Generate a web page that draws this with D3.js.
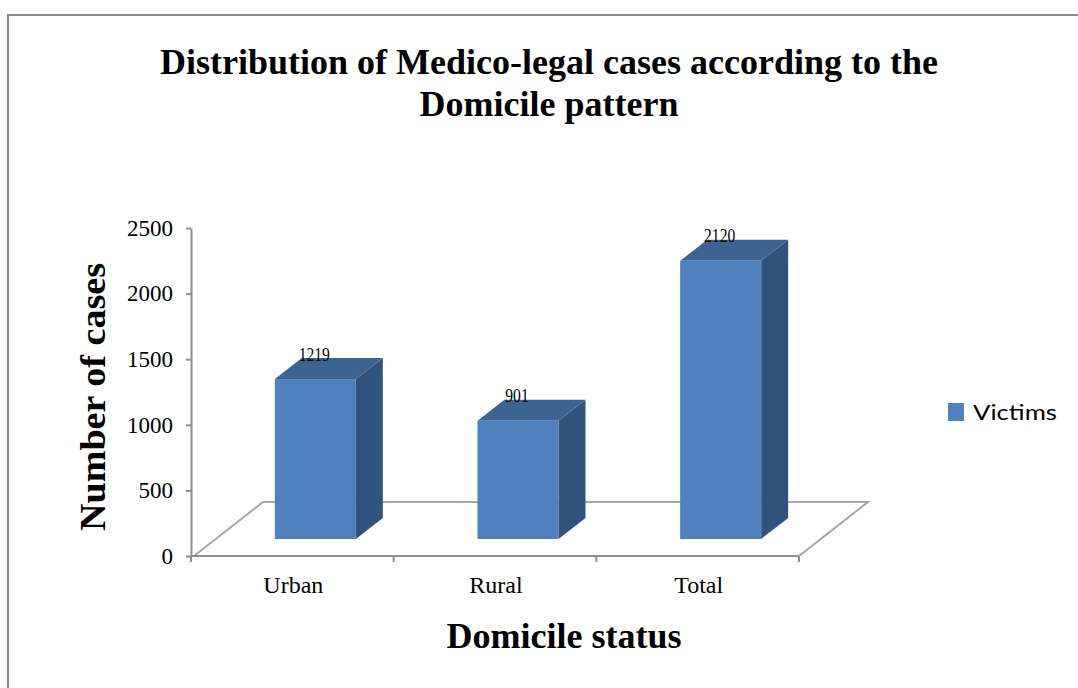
<!DOCTYPE html>
<html>
<head>
<meta charset="utf-8">
<script src="https://cdn.jsdelivr.net/npm/d3@7"></script>
<style>
  body { margin: 0; background: #fff; }
  svg { display: block; }
</style>
</head>
<body>
<svg id="chart" width="1078" height="688"></svg>
<script>
// Data
const categories = ["Urban", "Rural", "Total"];
const victims = [1219, 901, 2120];
const yTicks = [0, 500, 1000, 1500, 2000, 2500];
const seriesName = "Victims";

const svg = d3.select("#chart");
const serif = "'Liberation Serif', 'Times New Roman', serif";
const axisGrey = "#8e8e8e";

// Outer frame
svg.append("path")
    .attr("d", "M8,688 V15 H1078")
    .attr("fill", "none")
    .attr("stroke", "#8a8a8a")
    .attr("stroke-width", 2);

// Scales
const y = d3.scaleLinear().domain([0, 2500]).range([556, 228]);
const x = d3.scaleBand().domain(categories).range([191, 799]).padding(0);

// 3D offsets (floor depth, bar front plane, bar depth)
const floor = { dx: 69, dy: -54 };
const front = { dx: 23, dy: -17 };
const depth = { dx: 27, dy: -21 };
const barW = 81;

// Title
const title = svg.append("text")
    .attr("text-anchor", "middle")
    .attr("font-family", serif)
    .attr("font-weight", "bold")
    .attr("font-size", "36px");
title.append("tspan").attr("x", 549).attr("y", 74).text("Distribution of Medico-legal cases according to the");
title.append("tspan").attr("x", 549).attr("y", 116).text("Domicile pattern");

// Floor
const fx0 = x.range()[0], fx1 = x.range()[1], fy = y(0);
svg.append("path")
    .attr("d", `M${fx0 + 3},${fy} L${fx0 + 3 + floor.dx},${fy + floor.dy} L${fx1 + floor.dx},${fy + floor.dy} L${fx1},${fy}`)
    .attr("fill", "none")
    .attr("stroke", "#a6a6a6")
    .attr("stroke-width", 2);

// Y axis
const yAxis = svg.append("g")
    .attr("transform", `translate(${fx0}, 0)`)
    .call(d3.axisLeft(y).tickValues(yTicks).tickFormat(d3.format("d"))
        .tickSize(5).tickSizeOuter(0).tickPadding(13));
yAxis.select(".domain").attr("stroke", axisGrey).attr("stroke-width", 2);
yAxis.selectAll(".tick line").attr("stroke", axisGrey).attr("stroke-width", 2);
yAxis.selectAll(".tick text")
    .attr("font-family", serif)
    .attr("font-size", "23px")
    .attr("fill", "#000");

// X axis line and boundary ticks
svg.append("line")
    .attr("x1", fx0).attr("x2", fx1)
    .attr("y1", fy).attr("y2", fy)
    .attr("stroke", axisGrey).attr("stroke-width", 2);
const bounds = categories.map(c => x(c)).concat([x.range()[1]]);
svg.selectAll(".xtick")
    .data(bounds)
    .enter().append("line")
    .attr("class", "xtick")
    .attr("x1", d => d).attr("x2", d => d)
    .attr("y1", fy).attr("y2", fy + 6)
    .attr("stroke", axisGrey).attr("stroke-width", 2);

svg.selectAll(".xlabel")
    .data(categories)
    .enter().append("text")
    .attr("class", "xlabel")
    .attr("x", d => x(d) + x.bandwidth() / 2 + 1)
    .attr("y", 593)
    .attr("text-anchor", "middle")
    .attr("font-family", serif)
    .attr("font-size", "24px")
    .text(d => d);

// Bars
const bars = categories.map((c, i) => {
    const x0 = x(c) + x.bandwidth() / 2 - barW / 2 + front.dx;
    return {
        c, v: victims[i],
        x0, x1: x0 + barW,
        yTop: y(victims[i]) + front.dy,
        yBot: y(0) + front.dy
    };
});

const g = svg.append("g");
g.selectAll(".side")
    .data(bars)
    .enter().append("path")
    .attr("class", "side")
    .attr("d", d => `M${d.x1},${d.yTop} L${d.x1 + depth.dx},${d.yTop + depth.dy} L${d.x1 + depth.dx},${d.yBot + depth.dy} L${d.x1},${d.yBot} Z`)
    .attr("fill", "#31527c");
g.selectAll(".top")
    .data(bars)
    .enter().append("path")
    .attr("class", "top")
    .attr("d", d => `M${d.x0},${d.yTop} L${d.x1},${d.yTop} L${d.x1 + depth.dx},${d.yTop + depth.dy} L${d.x0 + depth.dx},${d.yTop + depth.dy} Z`)
    .attr("fill", "#3c6391");
g.selectAll(".front")
    .data(bars)
    .enter().append("rect")
    .attr("class", "front")
    .attr("x", d => d.x0)
    .attr("y", d => d.yTop)
    .attr("width", barW)
    .attr("height", d => d.yBot - d.yTop)
    .attr("fill", "#4f81bd");

// Value labels
svg.selectAll(".value")
    .data(bars)
    .enter().append("text")
    .attr("class", "value")
    .attr("x", d => (d.x0 + d.x1) / 2 - 1)
    .attr("y", d => d.yTop + depth.dy + 2.5)
    .attr("text-anchor", "middle")
    .attr("font-family", serif)
    .attr("font-size", "19px")
    .attr("textLength", d => String(d.v).length * 7.8)
    .attr("lengthAdjust", "spacingAndGlyphs")
    .text(d => d.v);

// Axis titles
svg.append("text")
    .attr("transform", "translate(105, 397) rotate(-90)")
    .attr("text-anchor", "middle")
    .attr("font-family", serif)
    .attr("font-weight", "bold")
    .attr("font-size", "36px")
    .attr("textLength", 268)
    .attr("lengthAdjust", "spacingAndGlyphs")
    .text("Number of cases");

svg.append("text")
    .attr("x", 564)
    .attr("y", 648)
    .attr("text-anchor", "middle")
    .attr("font-family", serif)
    .attr("font-weight", "bold")
    .attr("font-size", "36px")
    .text("Domicile status");

// Legend
svg.append("rect")
    .attr("x", 948).attr("y", 403)
    .attr("width", 16).attr("height", 18)
    .attr("fill", "#4f81bd");
svg.append("text")
    .attr("x", 973).attr("y", 420)
    .attr("font-family", "Lato, 'Open Sans', sans-serif")
    .attr("font-size", "22px")
    .attr("textLength", 84)
    .attr("lengthAdjust", "spacingAndGlyphs")
    .text(seriesName);
</script>
</body>
</html>
